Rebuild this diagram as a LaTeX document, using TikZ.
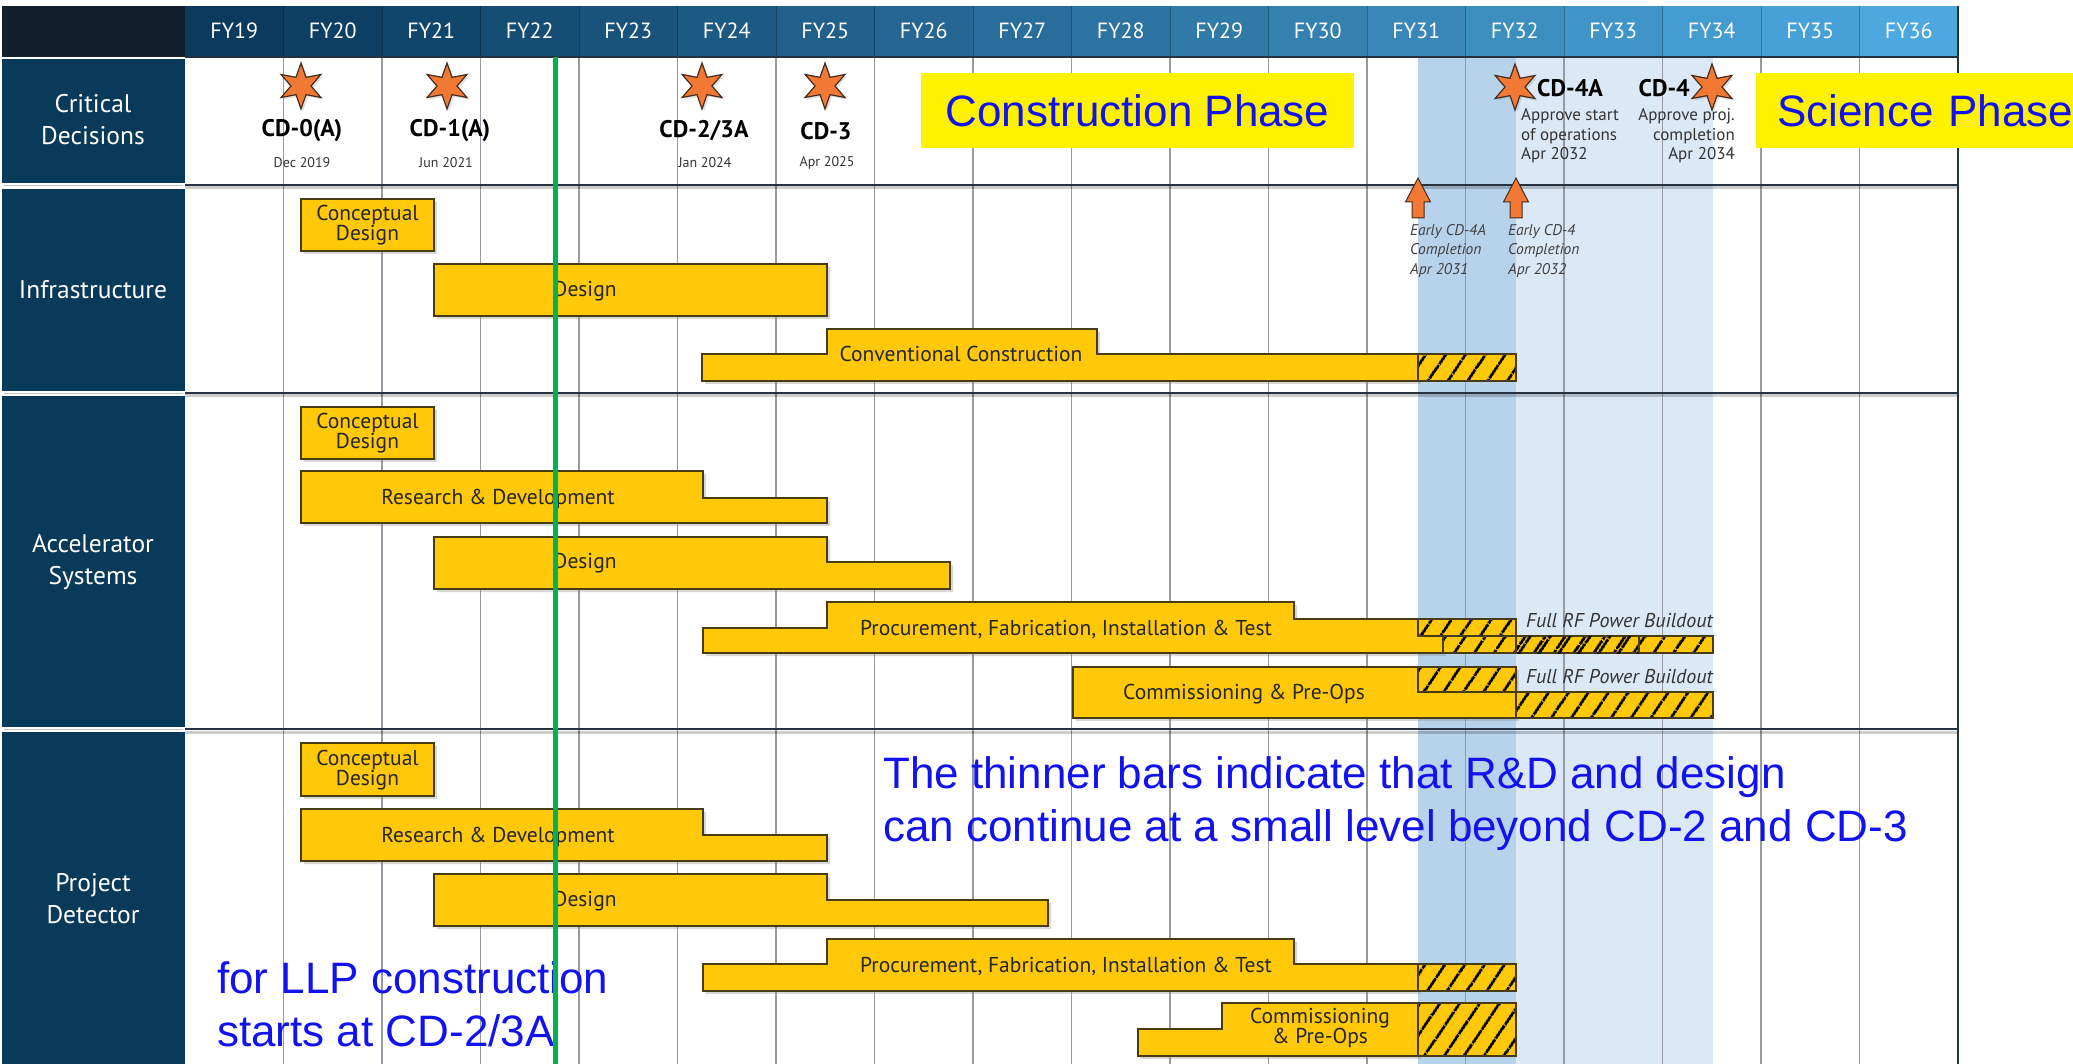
\documentclass[tikz,border=0pt]{standalone}
\usepackage{fontspec}
\setmainfont{PT Sans}
\newfontfamily\notefont{Liberation Sans}
\usepackage{tikz}
\usetikzlibrary{shapes.geometric,shadows,patterns.meta}

\definecolor{corner}{RGB}{19,31,45}
\definecolor{navy}{RGB}{9,58,90}
\definecolor{hdrL}{RGB}{10,58,94}
\definecolor{hdrR}{RGB}{76,168,222}
\definecolor{barfill}{RGB}{255,200,8}
\definecolor{baredge}{RGB}{72,60,20}
\definecolor{starfill}{RGB}{241,121,52}
\definecolor{stardark}{RGB}{70,45,30}
\definecolor{darkband}{RGB}{183,211,236}
\definecolor{lightband}{RGB}{219,232,246}
\definecolor{gridgrey}{RGB}{150,154,162}
\definecolor{sepline}{RGB}{38,50,64}
\definecolor{llpgreen}{RGB}{0,178,80}
\definecolor{noteblue}{RGB}{18,18,238}

\tikzstyle{bar}=[fill=barfill, draw=baredge, line width=1.5pt,
  drop shadow={shadow xshift=3pt, shadow yshift=-3pt, opacity=0.3}]
\tikzstyle{hatch}=[preaction={fill=barfill},
  pattern={Lines[angle=56, distance=17pt, line width=3pt]}, pattern color=black,
  draw=baredge, line width=1.5pt]
\tikzstyle{gridline}=[gridgrey, line width=1.2pt]
\tikzset{
  hdrtext/.style={text=white, font=\fontsize{22}{24}\selectfont, inner sep=0pt},
  rowlabel/.style={text=white, align=center, font=\fontsize{25.5}{32}\selectfont, inner sep=0pt},
  barlabel/.style={text=black!85, font=\fontsize{21.5}{20}\selectfont, inner sep=0pt, align=center},
  cdtitle/.style={font=\bfseries\fontsize{24}{26}\selectfont, inner sep=0pt},
  cddate/.style={font=\fontsize{14}{16}\selectfont, text=black!80, inner sep=0pt},
  cdnote/.style={font=\fontsize{17}{19.5}\selectfont, text=black!80, inner sep=0pt},
  earlynote/.style={font=\itshape\fontsize{15.5}{19.5}\selectfont, text=black!75, inner sep=0pt, align=left, anchor=west},
  rfnote/.style={font=\itshape\fontsize{20}{20}\selectfont, text=black!80, inner sep=0pt, anchor=west},
  cdstar/.style={star, star points=6, star point ratio=2.3, minimum size=46pt, inner sep=0pt,
    fill=starfill, draw=stardark, line width=1.2pt,
    drop shadow={shadow xshift=2pt, shadow yshift=-2pt, opacity=0.25}},
  phasebox/.style={fill=yellow, text=noteblue, font=\notefont\fontsize{44}{50}\selectfont},
  bluenote/.style={text=noteblue, font=\notefont\fontsize{44}{53}\selectfont, align=left, anchor=west, inner sep=0pt}
}

\begin{document}
\begin{tikzpicture}[x=1pt, y=-1pt]
  \useasboundingbox (0,0) rectangle (2073,1064);
  \fill[white] (0,0) rectangle (2073,1064);

  %%%%%%%% bands and grid %%%%%%%%
  \fill[darkband] (1418,57) rectangle (1516,1064);
  \fill[lightband] (1516,57) rectangle (1713,1064);
  \foreach \i in {1,...,17}
    \draw[gridline] ({185+98.5*\i},57) -- ({185+98.5*\i},1064);

  %%%%%%%% header %%%%%%%%
  \fill[corner] (2,6) rectangle (185,57);
  \foreach \i in {0,...,17} {
    \pgfmathtruncatemacro{\p}{\i*100/17}
    \pgfmathtruncatemacro{\yr}{19+\i}
    \fill[hdrR!\p!hdrL] ({185+98.5*\i},6) rectangle ({185+98.5*(\i+1)},57);
    \node (fy\yr) [hdrtext] at ({185+98.5*(\i+0.5)},31) {FY\yr};
  }
  \foreach \i in {1,...,17}
    \draw[black, opacity=0.25, line width=1pt] ({185+98.5*\i},6) -- ({185+98.5*\i},57);

  %%%%%%%% row labels %%%%%%%%
  \fill[navy] (2,59) rectangle (185,183);
  \fill[navy] (2,189) rectangle (185,391);
  \fill[navy] (2,396) rectangle (185,727);
  \fill[navy] (2,732) rectangle (185,1064);
  \foreach \y in {186,393.5,729.5}
    \draw[gridgrey!60, line width=1pt] (4,\y) -- (183,\y);
  \node (lab_cd) [rowlabel] at (93,120) {Critical\\Decisions};
  \node (lab_inf) [rowlabel] at (93,290) {Infrastructure};
  \node (lab_acc) [rowlabel] at (93,562) {Accelerator\\Systems};
  \node (lab_det) [rowlabel] at (93,899) {Project\\Detector};

  %%%%%%%% separators %%%%%%%%
  \foreach \y in {185,393,729} {
    \draw[black, opacity=0.2, line width=3pt] (185,\y+3) -- (1958,\y+3);
    \draw[sepline, line width=2.5pt] (185,\y) -- (1958,\y);
  }
  \draw[sepline, line width=1.5pt] (185,57) -- (1958,57);
  \draw[sepline, line width=2pt] (1958,6) -- (1958,1064);

  %%%%%%%% critical decisions %%%%%%%%
  \node (construct) [phasebox, minimum width=433pt, minimum height=75pt] at (1137.5,110.5) {Construction Phase};
  \node (science) [phasebox, anchor=west, text width=300pt, align=left, inner xsep=21pt, minimum height=75pt] at (1756,110.5) {Science Phase};

  \node (star_0) [cdstar] at (301,86) {};
  \node (star_1) [cdstar] at (447,86) {};
  \node (star_23) [cdstar] at (702,86) {};
  \node (star_3) [cdstar] at (825,86) {};
  \node (star_4a) [cdstar] at (1515,87) {};
  \node (star_4) [cdstar] at (1712,87) {};

  \node (cd_0) [cdtitle] at (302,131) {CD-0(A)};
  \node (cd_0d) [cddate] at (302,163) {Dec 2019};
  \node (cd_1) [cdtitle] at (450,131) {CD-1(A)};
  \node (cd_1d) [cddate] at (446,163) {Jun 2021};
  \node (cd_23) [cdtitle] at (704,131) {CD-2/3A};
  \node (cd_23d) [cddate] at (705,163) {Jan 2024};
  \node (cd_3) [cdtitle] at (826,131) {CD-3};
  \node (cd_3d) [cddate] at (827,163) {Apr 2025};

  \node (cd_4a) [cdtitle, anchor=west] at (1537,88) {CD-4A};
  \node (cd_4an) [cdnote, anchor=west, align=left] at (1521,136) {Approve start\\of operations\\Apr 2032};
  \node (cd_4) [cdtitle, anchor=east] at (1690,88) {CD-4};
  \node (cd_4n) [cdnote, anchor=east, align=right] at (1735,136) {Approve proj.\\completion\\Apr 2034};

  % early completion arrows
  \foreach \ax in {1418,1516}
    \filldraw[fill=starfill, draw=stardark, line width=1pt]
      (\ax,178) -- (\ax+12.5,202) -- (\ax+6,202) -- (\ax+6,218)
      -- (\ax-6,218) -- (\ax-6,202) -- (\ax-12.5,202) -- cycle;
  \node (early_4a) [earlynote] at (1410,251) {Early CD-4A\\Completion\\Apr 2031};
  \node (early_4) [earlynote] at (1508,251) {Early CD-4\\Completion\\Apr 2032};

  %%%%%%%% infrastructure %%%%%%%%
  \draw[bar] (301,199) rectangle (434,251);
  \draw[bar] (434,264) rectangle (827,316);
  \draw[bar] (702,354) -- (827,354) -- (827,329) -- (1097,329) -- (1097,354)
    -- (1418,354) -- (1418,381) -- (702,381) -- cycle;
  \draw[hatch] (1418,354) rectangle (1516,381);
  \node (inf_cd) [barlabel] at (367.5,225) {Conceptual\\Design};
  \node (inf_des) [barlabel] at (585,291) {Design};
  \node (inf_conv) [barlabel] at (961,354) {Conventional Construction};

  %%%%%%%% accelerator systems %%%%%%%%
  \draw[bar] (301,407) rectangle (434,459);
  \draw[bar] (301,471) -- (703,471) -- (703,498) -- (827,498) -- (827,523) -- (301,523) -- cycle;
  \draw[bar] (434,537) -- (827,537) -- (827,562) -- (950,562) -- (950,589) -- (434,589) -- cycle;
  \draw[bar] (703,628) -- (827,628) -- (827,602) -- (1294,602) -- (1294,619) -- (1418,619)
    -- (1418,636) -- (1443,636) -- (1443,653) -- (703,653) -- cycle;
  \draw[hatch] (1418,619) rectangle (1516,636);
  \draw[hatch] (1443,636) rectangle (1713,653);
  \fill[pattern={Lines[angle=56, distance=17pt, xshift=7pt, line width=3pt]}, pattern color=black]
    (1516,636) rectangle (1639,653);
  \draw[baredge, line width=1.5pt] (1516,636) -- (1516,653) (1639,636) -- (1639,653);
  \draw[bar] (1073,667) rectangle (1516,718);
  \draw[hatch] (1418,667) rectangle (1516,692);
  \draw[hatch] (1516,692) rectangle (1713,718);
  \node (acc_cd) [barlabel] at (367.5,433) {Conceptual\\Design};
  \node (acc_rd) [barlabel] at (498,499) {Research \& Development};
  \node (acc_des) [barlabel] at (585,563) {Design};
  \node (acc_pfit) [barlabel] at (1066,629) {Procurement, Fabrication, Installation \& Test};
  \node (acc_com) [barlabel] at (1244,694) {Commissioning \& Pre-Ops};
  \node (acc_rf1) [rfnote] at (1526,621) {Full RF Power Buildout};
  \node (acc_rf2) [rfnote] at (1526,677) {Full RF Power Buildout};

  %%%%%%%% project detector %%%%%%%%
  \draw[bar] (301,743) rectangle (434,796);
  \draw[bar] (301,809) -- (703,809) -- (703,835) -- (827,835) -- (827,861) -- (301,861) -- cycle;
  \draw[bar] (434,874) -- (827,874) -- (827,900) -- (1048,900) -- (1048,926) -- (434,926) -- cycle;
  \draw[bar] (703,964) -- (827,964) -- (827,939) -- (1294,939) -- (1294,964) -- (1418,964)
    -- (1418,991) -- (703,991) -- cycle;
  \draw[hatch] (1418,964) rectangle (1516,991);
  \draw[bar] (1138,1029) -- (1222,1029) -- (1222,1003) -- (1418,1003) -- (1418,1056) -- (1138,1056) -- cycle;
  \draw[hatch] (1418,1003) rectangle (1516,1056);
  \node (det_cd) [barlabel] at (367.5,770) {Conceptual\\Design};
  \node (det_rd) [barlabel] at (498,837) {Research \& Development};
  \node (det_des) [barlabel] at (585,901) {Design};
  \node (det_pfit) [barlabel] at (1066,966) {Procurement, Fabrication, Installation \& Test};
  \node (det_com) [barlabel] at (1320,1028) {Commissioning\\\& Pre-Ops};

  %%%%%%%% notes %%%%%%%%
  \node (note_thin) [bluenote] at (883,804) {The thinner bars indicate that R\&D and design\\can continue at a small level beyond CD-2 and CD-3};
  \node (note_llp) [bluenote] at (217,1004) {for LLP construction\\starts at CD-2/3A};

  % today line
  \draw[llpgreen, line width=5pt] (555,57) -- (555,1064);
\end{tikzpicture}
\end{document}
